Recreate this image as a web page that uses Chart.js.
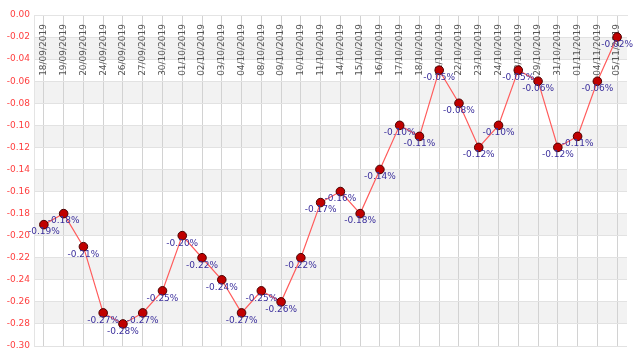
<!DOCTYPE html>
<html>
<head>
<meta charset="utf-8">
<script src="https://cdn.jsdelivr.net/npm/chart.js@4/dist/chart.umd.min.js"></script>
<style>
  html, body { margin: 0; padding: 0; background: #fff; }
  #wrap { width: 640px; height: 362px; }
</style>
</head>
<body>
<div id="wrap"><canvas id="graph"></canvas></div>
<script>
const dates = ['18/09/2019', '19/09/2019', '20/09/2019', '24/09/2019', '26/09/2019', '27/09/2019',
  '30/10/2019', '01/10/2019', '02/10/2019', '03/10/2019', '04/10/2019', '08/10/2019', '09/10/2019',
  '10/10/2019', '11/10/2019', '14/10/2019', '15/10/2019', '16/10/2019', '17/10/2019', '18/10/2019',
  '21/10/2019', '22/10/2019', '23/10/2019', '24/10/2019', '28/10/2019', '29/10/2019', '31/10/2019',
  '01/11/2019', '04/11/2019', '05/11/2019'];
const values = [-0.19, -0.18, -0.21, -0.27, -0.28, -0.27, -0.25, -0.20, -0.22, -0.24, -0.27, -0.25, -0.26,
  -0.22, -0.17, -0.16, -0.18, -0.14, -0.10, -0.11, -0.05, -0.08, -0.12, -0.10, -0.05, -0.06, -0.12,
  -0.11, -0.06, -0.02];
const yMin = -0.30;
const yMax = 0.00;
const yStep = 0.02;

const FONT = 'DejaVu Sans';

// alternating grey bands between y ticks
const bands = {
  id: 'bands',
  beforeDraw(chart) {
    const {ctx, chartArea, scales} = chart;
    const ticks = scales.y.ticks.map(t => t.value).sort((a, b) => b - a);
    ctx.save();
    ctx.fillStyle = '#f2f2f2';
    for (let i = 1; i < ticks.length - 1; i += 2) {
      const y1 = scales.y.getPixelForValue(ticks[i]);
      const y2 = scales.y.getPixelForValue(ticks[i + 1]);
      ctx.fillRect(chartArea.left, y1, chartArea.right - chartArea.left, y2 - y1);
    }
    ctx.restore();
  }
};

// rotated date labels drawn inside the plot, along the top
const dateLabels = {
  id: 'dateLabels',
  beforeDatasetsDraw(chart) {
    const {ctx, chartArea, scales} = chart;
    ctx.save();
    ctx.font = '9px "' + FONT + '"';
    ctx.fillStyle = '#555';
    ctx.textAlign = 'right';
    ctx.textBaseline = 'middle';
    dates.forEach((d, i) => {
      const x = scales.x.getPixelForTick(i);
      ctx.save();
      ctx.translate(x, chartArea.top + 9);
      ctx.rotate(-Math.PI / 2);
      ctx.fillText(d, 0, 0);
      ctx.restore();
    });
    ctx.restore();
  }
};

// value labels under each point
const valueLabels = {
  id: 'valueLabels',
  afterDatasetsDraw(chart) {
    const {ctx} = chart;
    const meta = chart.getDatasetMeta(0);
    ctx.save();
    ctx.font = '9px "' + FONT + '"';
    ctx.fillStyle = '#3b2f9c';
    ctx.textAlign = 'center';
    ctx.textBaseline = 'top';
    meta.data.forEach((pt, i) => {
      ctx.fillText(values[i].toFixed(2) + '%', pt.x, pt.y + 3);
    });
    ctx.restore();
  }
};

const config = {
  type: 'line',
  data: {
    labels: dates,
    datasets: [{
      data: values,
      borderColor: '#ff5c5c',
      borderWidth: 1.2,
      pointBackgroundColor: '#c00000',
      pointBorderColor: '#4a0000',
      pointBorderWidth: 1,
      pointRadius: 4.3,
      tension: 0
    }]
  },
  options: {
    responsive: true,
    maintainAspectRatio: false,
    animation: false,
    layout: { padding: { top: 15, right: 13, bottom: 16, left: 0 } },
    plugins: { legend: { display: false }, tooltip: { enabled: false } },
    scales: {
      x: {
        position: 'top',
        offset: true,
        grid: { offset: false, color: '#d2d2d2', drawTicks: false },
        border: { color: '#e4e4e4' },
        ticks: { display: false },
        afterFit(scale) { scale.height = 0; }
      },
      y: {
        min: yMin,
        max: yMax,
        grid: { color: '#e2e2e2', drawTicks: false },
        border: { color: '#e4e4e4' },
        ticks: {
          stepSize: yStep,
          padding: 4,
          color: '#ff4040',
          font: { family: FONT, size: 9 },
          callback: v => v.toFixed(2)
        },
        afterFit(scale) { scale.width = 34; }
      }
    }
  },
  plugins: [bands, dateLabels, valueLabels]
};

const myChart = new Chart(document.getElementById('graph'), config);
</script>
</body>
</html>
